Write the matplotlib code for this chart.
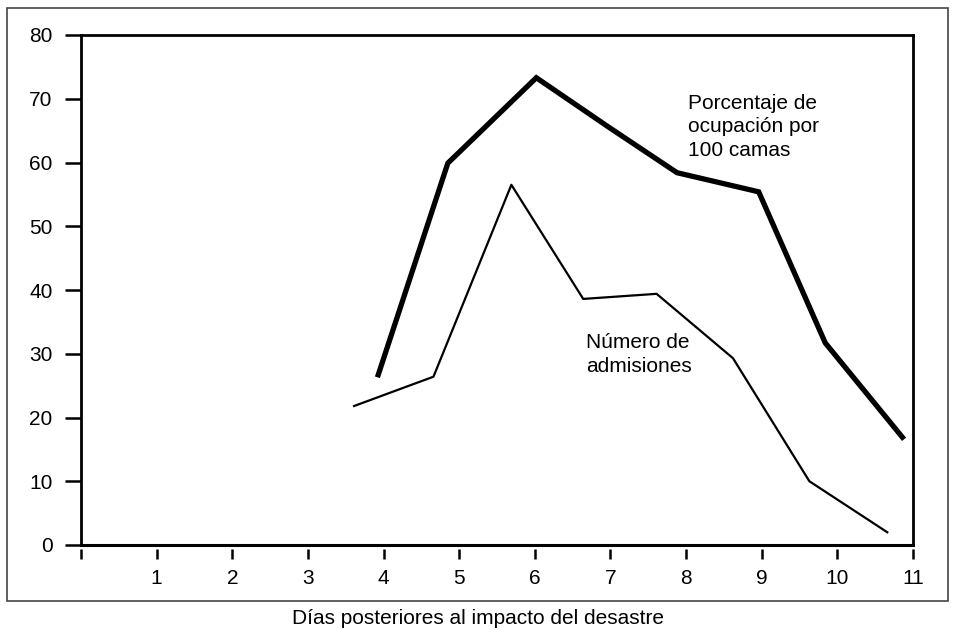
import numpy as np
import matplotlib
matplotlib.use("Agg")
import matplotlib.pyplot as plt
from matplotlib.patches import Rectangle

plt.rcParams['font.family'] = ['Liberation Sans', 'DejaVu Sans']

# ocupacion por 100 camas (thick line)
dias_ocup = [3.93, 4.85, 6.02, 6.97, 7.88, 8.96, 9.84, 10.86]
ocupacion = [26.7, 59.9, 73.3, 65.6, 58.4, 55.4, 31.7, 16.9]

# numero de admisiones (thin line)
dias_adm = [3.61, 4.66, 5.69, 6.64, 7.61, 8.62, 9.63, 10.66]
admisiones = [21.8, 26.4, 56.5, 38.6, 39.4, 29.3, 10.0, 2.0]

xticks = list(range(0, 12))
xlabels = [''] + [str(i) for i in range(1, 12)]
yticks = list(range(0, 90, 10))

W, H = 956, 629
fs = 15
fig = plt.figure(figsize=(W / 100, H / 100), dpi=100)
ax = fig.add_axes([81 / W, (H - 545) / H, (913 - 81) / W, (545 - 35) / H])

ax.plot(dias_ocup, ocupacion, color='black', lw=3.8, solid_joinstyle='miter')
ax.plot(dias_adm, admisiones, color='black', lw=1.6)

ax.set_xlim(0, 11)
ax.set_ylim(0, 80)
ax.set_xticks(xticks)
ax.set_xticklabels(xlabels)
ax.set_yticks(yticks)

for s in ['left', 'right', 'top']:
    ax.spines[s].set_linewidth(2)
ax.spines['bottom'].set_position(('outward', 3))
ax.spines['bottom'].set_visible(False)
ax.axhline(0, color='black', lw=2.2, clip_on=False, zorder=5)

ax.tick_params(axis='y', direction='out', length=11.5, width=1.8, pad=9, labelsize=fs)
ax.tick_params(axis='x', direction='out', length=7.5, width=1.8, pad=6.5, labelsize=fs)

ax.text(8.02, 70.8, 'Porcentaje de\nocupación por\n100 camas', fontsize=fs,
        va='top', ha='left', linespacing=1.32)
ax.text(6.68, 33.3, 'Número de\nadmisiones', fontsize=fs,
        va='top', ha='left', linespacing=1.32)

fig.patches.append(Rectangle((7 / W, (H - 601) / H), (948 - 7) / W, (601 - 8) / H,
                             transform=fig.transFigure, fill=False,
                             edgecolor='#444444', lw=1.2))
fig.text(0.5, 1 - 619 / H, 'Días posteriores al impacto del desastre',
         ha='center', va='center', fontsize=fs)

fig.savefig('out.png', dpi=100)
